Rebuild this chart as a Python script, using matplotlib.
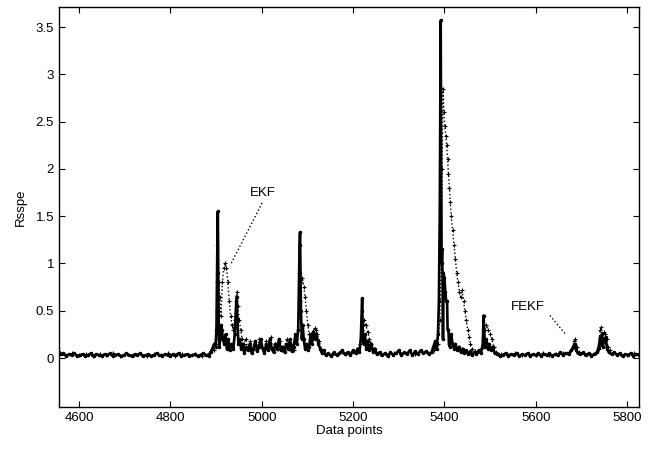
"""
Rsspe of FEKF vs EKF over data points
"""

import matplotlib.pyplot as plt

# =====================================================
# DATA
# =====================================================
fekf_x = [
    4556, 4560, 4566, 4572, 4578, 4584, 4590, 4596, 4602, 4608, 4614, 4620,
    4626, 4632, 4638, 4644, 4650, 4656, 4662, 4668, 4674, 4680, 4686, 4692,
    4698, 4704, 4710, 4716, 4722, 4728, 4734, 4740, 4746, 4752, 4758, 4764,
    4770, 4776, 4782, 4788, 4794, 4800, 4806, 4812, 4818, 4824, 4830, 4836,
    4842, 4848, 4854, 4860, 4866, 4872, 4878, 4884, 4888, 4892, 4896, 4899,
    4901, 4902, 4903, 4904, 4905, 4906, 4907, 4909, 4911, 4913, 4915, 4918,
    4921, 4924, 4927, 4930, 4934, 4938, 4941, 4943, 4945, 4947, 4949, 4952,
    4955, 4958, 4962, 4966, 4970, 4974, 4978, 4982, 4986, 4990, 4994, 4998,
    5002, 5006, 5010, 5014, 5018, 5022, 5026, 5030, 5034, 5038, 5042, 5046,
    5050, 5054, 5058, 5062, 5066, 5070, 5074, 5077, 5080, 5082, 5083, 5084,
    5085, 5086, 5088, 5090, 5092, 5095, 5098, 5101, 5104, 5107, 5110, 5113,
    5116, 5120, 5124, 5128, 5132, 5136, 5140, 5146, 5152, 5158, 5164, 5170,
    5176, 5182, 5188, 5194, 5200, 5206, 5210, 5214, 5217, 5219, 5220, 5221,
    5223, 5226, 5229, 5232, 5236, 5240, 5244, 5248, 5252, 5258, 5264, 5270,
    5276, 5282, 5288, 5294, 5300, 5306, 5312, 5318, 5324, 5330, 5336, 5342,
    5348, 5354, 5360, 5366, 5372, 5376, 5380, 5383, 5386, 5388, 5390, 5391,
    5392, 5393, 5394, 5395, 5396, 5397, 5398, 5400, 5402, 5404, 5406, 5407,
    5409, 5410, 5412, 5415, 5418, 5421, 5424, 5428, 5432, 5436, 5440, 5444,
    5448, 5452, 5456, 5460, 5465, 5470, 5475, 5480, 5484, 5486, 5487, 5489,
    5492, 5495, 5498, 5502, 5506, 5510, 5516, 5522, 5528, 5534, 5540, 5546,
    5552, 5558, 5564, 5570, 5576, 5582, 5588, 5594, 5600, 5606, 5612, 5618,
    5624, 5630, 5636, 5642, 5648, 5654, 5660, 5666, 5672, 5678, 5682, 5686,
    5689, 5692, 5698, 5704, 5710, 5716, 5722, 5728, 5734, 5738, 5741, 5743,
    5745, 5747, 5750, 5753, 5756, 5760, 5766, 5772, 5778, 5784, 5790, 5796,
    5802, 5808, 5814, 5820, 5826,
]
fekf_y = [
    0.06, 0.04, 0.05, 0.02, 0.04, 0.03, 0.05, 0.02, 0.03, 0.04, 0.02, 0.03,
    0.05, 0.02, 0.04, 0.03, 0.02, 0.04, 0.03, 0.05, 0.02, 0.03, 0.04, 0.02,
    0.03, 0.05, 0.03, 0.02, 0.04, 0.03, 0.05, 0.02, 0.03, 0.04, 0.02, 0.03,
    0.05, 0.03, 0.02, 0.04, 0.03, 0.02, 0.04, 0.03, 0.05, 0.02, 0.03, 0.04,
    0.02, 0.03, 0.04, 0.02, 0.03, 0.05, 0.03, 0.02, 0.06, 0.10, 0.15, 0.12,
    0.30, 0.80, 1.20, 1.55, 0.90, 0.30, 0.12, 0.20, 0.35, 0.30, 0.20, 0.15,
    0.25, 0.10, 0.20, 0.08, 0.15, 0.10, 0.25, 0.45, 0.65, 0.40, 0.15, 0.20,
    0.10, 0.15, 0.05, 0.12, 0.08, 0.15, 0.05, 0.10, 0.18, 0.07, 0.12, 0.20,
    0.10, 0.05, 0.15, 0.08, 0.20, 0.10, 0.06, 0.15, 0.10, 0.20, 0.08, 0.12,
    0.06, 0.15, 0.10, 0.20, 0.07, 0.12, 0.25, 0.15, 0.30, 0.90, 1.20, 1.33,
    0.90, 0.50, 0.20, 0.35, 0.20, 0.10, 0.15, 0.08, 0.12, 0.25, 0.15, 0.28,
    0.20, 0.25, 0.15, 0.10, 0.05, 0.08, 0.03, 0.05, 0.02, 0.06, 0.03, 0.05,
    0.08, 0.04, 0.06, 0.03, 0.08, 0.05, 0.10, 0.06, 0.20, 0.50, 0.63, 0.35,
    0.15, 0.25, 0.10, 0.18, 0.08, 0.15, 0.06, 0.10, 0.04, 0.06, 0.03, 0.05,
    0.02, 0.06, 0.03, 0.05, 0.08, 0.03, 0.06, 0.04, 0.08, 0.03, 0.07, 0.04,
    0.08, 0.05, 0.07, 0.04, 0.06, 0.12, 0.18, 0.10, 0.25, 0.60, 1.60, 2.60,
    3.57, 2.00, 1.00, 1.15, 0.85, 0.20, 0.90, 0.85, 0.70, 0.60, 0.60, 0.30,
    0.30, 0.15, 0.12, 0.25, 0.15, 0.10, 0.15, 0.08, 0.12, 0.06, 0.10, 0.05,
    0.08, 0.04, 0.07, 0.03, 0.06, 0.04, 0.08, 0.05, 0.15, 0.45, 0.30, 0.12,
    0.20, 0.10, 0.15, 0.08, 0.12, 0.05, 0.04, 0.02, 0.03, 0.05, 0.02, 0.04,
    0.03, 0.05, 0.02, 0.04, 0.03, 0.05, 0.02, 0.04, 0.03, 0.05, 0.02, 0.04,
    0.03, 0.05, 0.02, 0.04, 0.03, 0.06, 0.03, 0.05, 0.04, 0.08, 0.12, 0.15,
    0.08, 0.05, 0.04, 0.06, 0.03, 0.05, 0.02, 0.04, 0.06, 0.12, 0.22, 0.15,
    0.25, 0.12, 0.20, 0.22, 0.10, 0.06, 0.04, 0.06, 0.03, 0.05, 0.02, 0.04,
    0.03, 0.05, 0.02, 0.04, 0.03,
]

ekf_x = [
    4556, 4570, 4585, 4600, 4615, 4630, 4645, 4660, 4675, 4690, 4705, 4720,
    4735, 4750, 4765, 4780, 4795, 4810, 4825, 4840, 4855, 4870, 4885, 4895,
    4900, 4903, 4906, 4908, 4911, 4914, 4917, 4920, 4923, 4926, 4929, 4932,
    4935, 4938, 4941, 4944, 4946, 4948, 4951, 4954, 4957, 4961, 4965, 4970,
    4975, 4980, 4985, 4990, 4995, 5000, 5005, 5010, 5015, 5020, 5025, 5030,
    5035, 5040, 5045, 5050, 5055, 5060, 5065, 5070, 5075, 5080, 5083, 5086,
    5089, 5092, 5095, 5098, 5101, 5104, 5107, 5110, 5113, 5116, 5119, 5122,
    5126, 5130, 5135, 5142, 5155, 5170, 5185, 5200, 5210, 5216, 5220, 5224,
    5228, 5232, 5236, 5240, 5245, 5250, 5260, 5275, 5290, 5305, 5320, 5335,
    5350, 5365, 5378, 5386, 5390, 5393, 5395, 5397, 5399, 5401, 5403, 5405,
    5407, 5409, 5411, 5413, 5415, 5418, 5421, 5424, 5427, 5430, 5433, 5436,
    5439, 5442, 5445, 5448, 5451, 5454, 5457, 5461, 5466, 5472, 5478, 5484,
    5488, 5492, 5496, 5500, 5504, 5508, 5514, 5525, 5540, 5555, 5570, 5585,
    5600, 5615, 5630, 5645, 5660, 5672, 5680, 5684, 5687, 5690, 5695, 5705,
    5720, 5732, 5738, 5741, 5743, 5746, 5749, 5752, 5755, 5758, 5762, 5770,
    5785, 5800, 5815, 5826,
]
ekf_y = [
    0.04, 0.03, 0.05, 0.03, 0.04, 0.02, 0.04, 0.03, 0.05, 0.02, 0.04, 0.03,
    0.04, 0.02, 0.04, 0.03, 0.05, 0.02, 0.04, 0.03, 0.04, 0.02, 0.05, 0.08,
    0.15, 0.50, 0.80, 0.65, 0.45, 0.80, 0.95, 1.00, 0.95, 0.80, 0.60, 0.45,
    0.35, 0.30, 0.40, 0.60, 0.70, 0.55, 0.40, 0.30, 0.20, 0.15, 0.20, 0.10,
    0.18, 0.08, 0.15, 0.10, 0.20, 0.12, 0.08, 0.18, 0.10, 0.22, 0.08, 0.15,
    0.10, 0.18, 0.08, 0.12, 0.20, 0.10, 0.15, 0.08, 0.20, 0.30, 0.60, 0.80,
    0.85, 0.75, 0.65, 0.50, 0.35, 0.25, 0.18, 0.20, 0.28, 0.32, 0.30, 0.25,
    0.18, 0.10, 0.06, 0.04, 0.03, 0.05, 0.04, 0.06, 0.08, 0.15, 0.30, 0.40,
    0.35, 0.28, 0.20, 0.15, 0.10, 0.06, 0.04, 0.03, 0.05, 0.04, 0.06, 0.04,
    0.06, 0.05, 0.08, 0.15, 0.40, 1.00, 2.00, 2.85, 2.60, 2.45, 2.35, 2.25,
    2.10, 1.95, 1.80, 1.65, 1.50, 1.35, 1.20, 1.05, 0.90, 0.80, 0.70, 0.65,
    0.72, 0.60, 0.50, 0.40, 0.30, 0.22, 0.15, 0.10, 0.07, 0.05, 0.08, 0.12,
    0.30, 0.35, 0.30, 0.25, 0.20, 0.12, 0.06, 0.04, 0.03, 0.05, 0.03, 0.04,
    0.03, 0.05, 0.03, 0.04, 0.05, 0.06, 0.10, 0.18, 0.20, 0.12, 0.06, 0.04,
    0.03, 0.05, 0.10, 0.30, 0.33, 0.25, 0.28, 0.25, 0.20, 0.12, 0.08, 0.05,
    0.04, 0.03, 0.05, 0.04,
]

x_ticks = [4600, 4800, 5000, 5200, 5400, 5600, 5800]
y_ticks = [0, 0.5, 1, 1.5, 2, 2.5, 3, 3.5]
y_tick_labels = ["0", "0.5", "1", "1.5", "2", "2.5", "3", "3.5"]

# =====================================================
# PLOTTING
# =====================================================
plt.rcParams["font.family"] = ["Liberation Sans", "DejaVu Sans"]
plt.rcParams["font.size"] = 9.5

fig = plt.figure(figsize=(6.54, 4.49), dpi=100)
ax = fig.add_axes([0.090, 0.093, 0.887, 0.891])

ax.plot(fekf_x, fekf_y, color="black", linestyle="-", linewidth=1.9,
        marker=".", markersize=3)
ax.plot(ekf_x, ekf_y, color="black", linestyle=":", linewidth=1.0,
        marker="+", markersize=2.5, markeredgewidth=0.8)

# leader lines and labels
ax.plot([5001, 4931], [1.64, 0.98], color="black", linestyle=":", linewidth=1.0)
ax.text(5003, 1.75, "EKF", ha="center", va="center", fontsize=9.5)
ax.plot([5631, 5664], [0.45, 0.26], color="black", linestyle=":", linewidth=1.0)
ax.text(5583, 0.54, "FEKF", ha="center", va="center", fontsize=9.5)

ax.set_xlim(4556, 5826)
ax.set_ylim(-0.52, 3.71)
ax.set_xticks(x_ticks)
ax.set_yticks(y_ticks)
ax.set_yticklabels(y_tick_labels)
ax.tick_params(direction="in", length=4, top=True, right=True, width=0.8)
for side in ax.spines.values():
    side.set_linewidth(1.0)

ax.set_xlabel("Data points", labelpad=1)
ax.set_ylabel("Rsspe", labelpad=6)

fig.savefig("out.png", dpi=100)
